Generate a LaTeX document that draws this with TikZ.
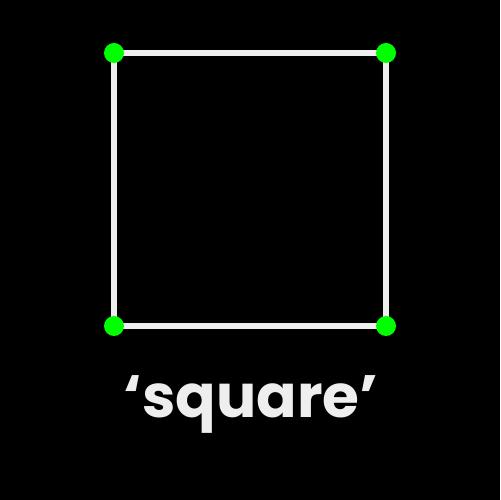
\documentclass[tikz,border=0pt]{standalone}
\usepackage{fontspec}
\setmainfont{Poppins}[BoldFont={* Bold}]
\definecolor{edgegray}{HTML}{EEEEEE}
\definecolor{dotgreen}{HTML}{00FF00}

\begin{document}
\begin{tikzpicture}[x=0.02cm,y=0.02cm]
% Background
\fill[black] (0,0) rectangle (500,500);
\useasboundingbox (0,0) rectangle (500,500);

% Corners of the square
\coordinate (tl) at (114,447);
\coordinate (tr) at (386,447);
\coordinate (br) at (386,174);
\coordinate (bl) at (114,174);

% Edges
\draw[edgegray, line width=0.12cm] (tl) -- (tr) -- (br) -- (bl) -- cycle;

% Points at corners
\fill[dotgreen] (tl) circle (10);
\fill[dotgreen] (tr) circle (10);
\fill[dotgreen] (br) circle (10);
\fill[dotgreen] (bl) circle (10);

% Label
\node[text=edgegray, font=\fontsize{34}{40}\selectfont\bfseries, anchor=base] (label) at (251,82) {‘square’};
\end{tikzpicture}
\end{document}
